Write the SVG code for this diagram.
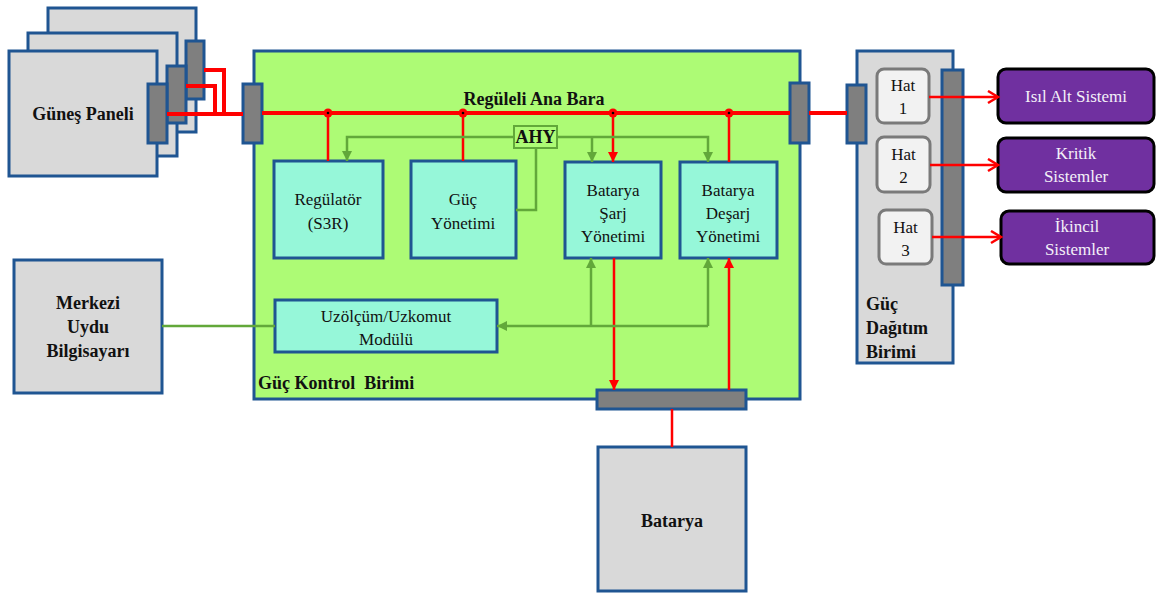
<svg xmlns="http://www.w3.org/2000/svg" width="1156" height="594" viewBox="0 0 1156 594">
<style>
.blue{stroke:#1f5592;stroke-width:3}
.panel{fill:#d9d9d9}
.tab{fill:#7f7f7f}
.box{fill:#96f7d9}
.t{font-family:'Liberation Serif','Times New Roman','DejaVu Serif',serif;font-size:17px;fill:#111;text-anchor:middle}
.b{font-family:'Liberation Serif','Times New Roman','DejaVu Serif',serif;font-size:18px;font-weight:bold;fill:#111}
.hat{fill:#f2f2f2;stroke:#7a7a7a;stroke-width:3}
.pur{fill:#7030a0;stroke:#000;stroke-width:3}
.pt{font-family:'Liberation Serif','Times New Roman','DejaVu Serif',serif;font-size:17px;fill:#f4f0f8;text-anchor:middle}
.red{stroke:#ff0000;stroke-width:2.5;fill:none}
.rbus{stroke:#ff0000;stroke-width:4;fill:none}
.grn{stroke:#62a83a;stroke-width:2.5;fill:none}
</style>
<defs>
<marker id="ga" markerUnits="userSpaceOnUse" markerWidth="12" markerHeight="12" refX="10" refY="5" orient="auto"><path d="M0,0 L10,5 L0,10 z" fill="#62a83a"/></marker>
<marker id="ra" markerUnits="userSpaceOnUse" markerWidth="12" markerHeight="12" refX="10" refY="5" orient="auto"><path d="M0,0 L10,5 L0,10 z" fill="#ff0000"/></marker>
<marker id="ro" markerUnits="userSpaceOnUse" markerWidth="14" markerHeight="16" refX="11" refY="7" orient="auto"><path d="M1,1 L11,7 L1,13" fill="none" stroke="#ff0000" stroke-width="2.5"/></marker>
</defs>

<g id="gunes-paneli">
<rect x="48" y="8" width="148" height="124" class="panel blue"/>
<rect x="28" y="33" width="149" height="123" class="panel blue"/>
<rect x="9" y="51" width="148" height="125" class="panel blue"/>
<rect x="186" y="41" width="18" height="58" class="tab blue"/>
<rect x="167" y="66" width="19" height="57" class="tab blue"/>
<rect x="148" y="84" width="19" height="59" class="tab blue"/>
<text x="83" y="120" class="b" text-anchor="middle">Güneş Paneli</text>
</g>

<g id="guc-kontrol-birimi">
<rect x="254" y="51" width="546" height="348" fill="#adfb75" class="blue"/>
<rect x="243" y="84" width="19" height="59" class="tab blue"/>
<rect x="790" y="83" width="19" height="60" class="tab blue"/>
<text x="534" y="105" class="b" text-anchor="middle">Regüleli Ana Bara</text>
<text x="258" y="389" class="b">Güç Kontrol&#160; Birimi</text>
</g>

<g id="regulator">
<rect x="274" y="161" width="109" height="97" class="box blue"/>
<text x="328" y="205" class="t">Regülatör</text>
<text x="328" y="229" class="t">(S3R)</text>
</g>

<g id="guc-yonetimi">
<rect x="411" y="161" width="105" height="97" class="box blue"/>
<text x="463" y="205" class="t">Güç</text>
<text x="463" y="229" class="t">Yönetimi</text>
</g>

<g id="ahy">
<rect x="514" y="126" width="43" height="22" fill="#adfb75" stroke="#62a83a" stroke-width="2"/>
<text x="535.5" y="143" class="b" font-size="16" text-anchor="middle">AHY</text>
</g>

<g id="batarya-sarj">
<rect x="565" y="162" width="96" height="96" class="box blue"/>
<text x="613" y="196" class="t">Batarya</text>
<text x="613" y="219" class="t">Şarj</text>
<text x="613" y="242" class="t">Yönetimi</text>
</g>

<g id="batarya-desarj">
<rect x="680" y="162" width="97" height="96" class="box blue"/>
<text x="728" y="196" class="t">Batarya</text>
<text x="728" y="219" class="t">Deşarj</text>
<text x="728" y="242" class="t">Yönetimi</text>
</g>

<g id="uzolcum">
<rect x="275" y="300" width="222" height="52" class="box blue"/>
<text x="386" y="322" class="t">Uzölçüm/Uzkomut</text>
<text x="386" y="345" class="t">Modülü</text>
</g>

<g id="merkezi-uydu">
<rect x="14" y="260" width="148" height="133" class="panel blue"/>
<text x="88" y="309" class="b" text-anchor="middle">Merkezi</text>
<text x="88" y="333" class="b" text-anchor="middle">Uydu</text>
<text x="88" y="357" class="b" text-anchor="middle">Bilgisayarı</text>
</g>

<g id="batarya-bara">
<rect x="597" y="390" width="149" height="19" class="tab blue"/>
</g>

<g id="batarya">
<rect x="598" y="447" width="148" height="144" class="panel blue"/>
<text x="672" y="527" class="b" text-anchor="middle">Batarya</text>
</g>

<g id="guc-dagitim-birimi">
<rect x="857" y="51" width="96" height="312" class="panel blue"/>
<rect x="847" y="85" width="19" height="58" class="tab blue"/>
<rect x="942" y="70" width="21" height="215" class="tab blue"/>
<text x="866" y="310" class="b">Güç</text>
<text x="866" y="334" class="b">Dağıtım</text>
<text x="866" y="358" class="b">Birimi</text>
</g>

<g id="hat1">
<rect x="877" y="69" width="52" height="54" rx="7" class="hat"/>
<text x="903" y="91" class="t" font-size="16">Hat</text>
<text x="903" y="114" class="t" font-size="16">1</text>
</g>
<g id="hat2">
<rect x="877" y="137" width="53" height="55" rx="7" class="hat"/>
<text x="903.5" y="160" class="t" font-size="16">Hat</text>
<text x="903.5" y="183" class="t" font-size="16">2</text>
</g>
<g id="hat3">
<rect x="879" y="210" width="53" height="54" rx="7" class="hat"/>
<text x="905.5" y="233" class="t" font-size="16">Hat</text>
<text x="905.5" y="256" class="t" font-size="16">3</text>
</g>

<g id="isil-alt-sistemi">
<rect x="998" y="69" width="156" height="54" rx="8" class="pur"/>
<text x="1076" y="102" class="pt">Isıl Alt Sistemi</text>
</g>
<g id="kritik-sistemler">
<rect x="998" y="138" width="156" height="54" rx="8" class="pur"/>
<text x="1076" y="159" class="pt">Kritik</text>
<text x="1076" y="182" class="pt">Sistemler</text>
</g>
<g id="ikincil-sistemler">
<rect x="1001" y="211" width="153" height="53" rx="8" class="pur"/>
<text x="1077" y="232" class="pt">İkincil</text>
<text x="1077" y="255" class="pt">Sistemler</text>
</g>

<g id="connectors">
<path class="rbus" d="M167,114 H243 M186,86 H215 V114 M204,70 H224 V114"/>
<path class="rbus" d="M262,113 H790 M809,113 H847"/>
<path class="red" d="M328,113 V161 M463,113 V161 M729,113 V162"/>
<path class="red" d="M613,113 V162" marker-end="url(#ra)"/>
<path class="red" d="M614,258 V390" marker-end="url(#ra)"/>
<path class="red" d="M729,390 V258" marker-end="url(#ra)"/>
<path class="red" d="M672,409 V447"/>
<path class="red" d="M929,97 H998" marker-end="url(#ro)"/>
<path class="red" d="M930,165 H998" marker-end="url(#ro)"/>
<path class="red" d="M932,237 H1001" marker-end="url(#ro)"/>
<g fill="#ff0000"><circle cx="328" cy="113" r="4.5"/><circle cx="463" cy="113" r="4.5"/><circle cx="613" cy="113" r="4.5"/><circle cx="729" cy="113" r="4.5"/></g>
<g fill="#000"><circle cx="328" cy="113" r="1.3"/><circle cx="463" cy="113" r="1.3"/><circle cx="613" cy="113" r="1.3"/><circle cx="729" cy="113" r="1.3"/></g>
<path class="grn" d="M514,137 H347 V161" marker-end="url(#ga)"/>
<path class="grn" d="M536,148 V210 H516"/>
<path class="grn" d="M557,137 H708 V162" marker-end="url(#ga)"/>
<path class="grn" d="M592,137 V162" marker-end="url(#ga)"/>
<path class="grn" d="M162,326 H275"/>
<path class="grn" d="M708,326 V258" marker-end="url(#ga)"/>
<path class="grn" d="M591,326 V258" marker-end="url(#ga)"/>
<path class="grn" d="M708,326 H497" marker-end="url(#ga)"/>
</g>
</svg>
